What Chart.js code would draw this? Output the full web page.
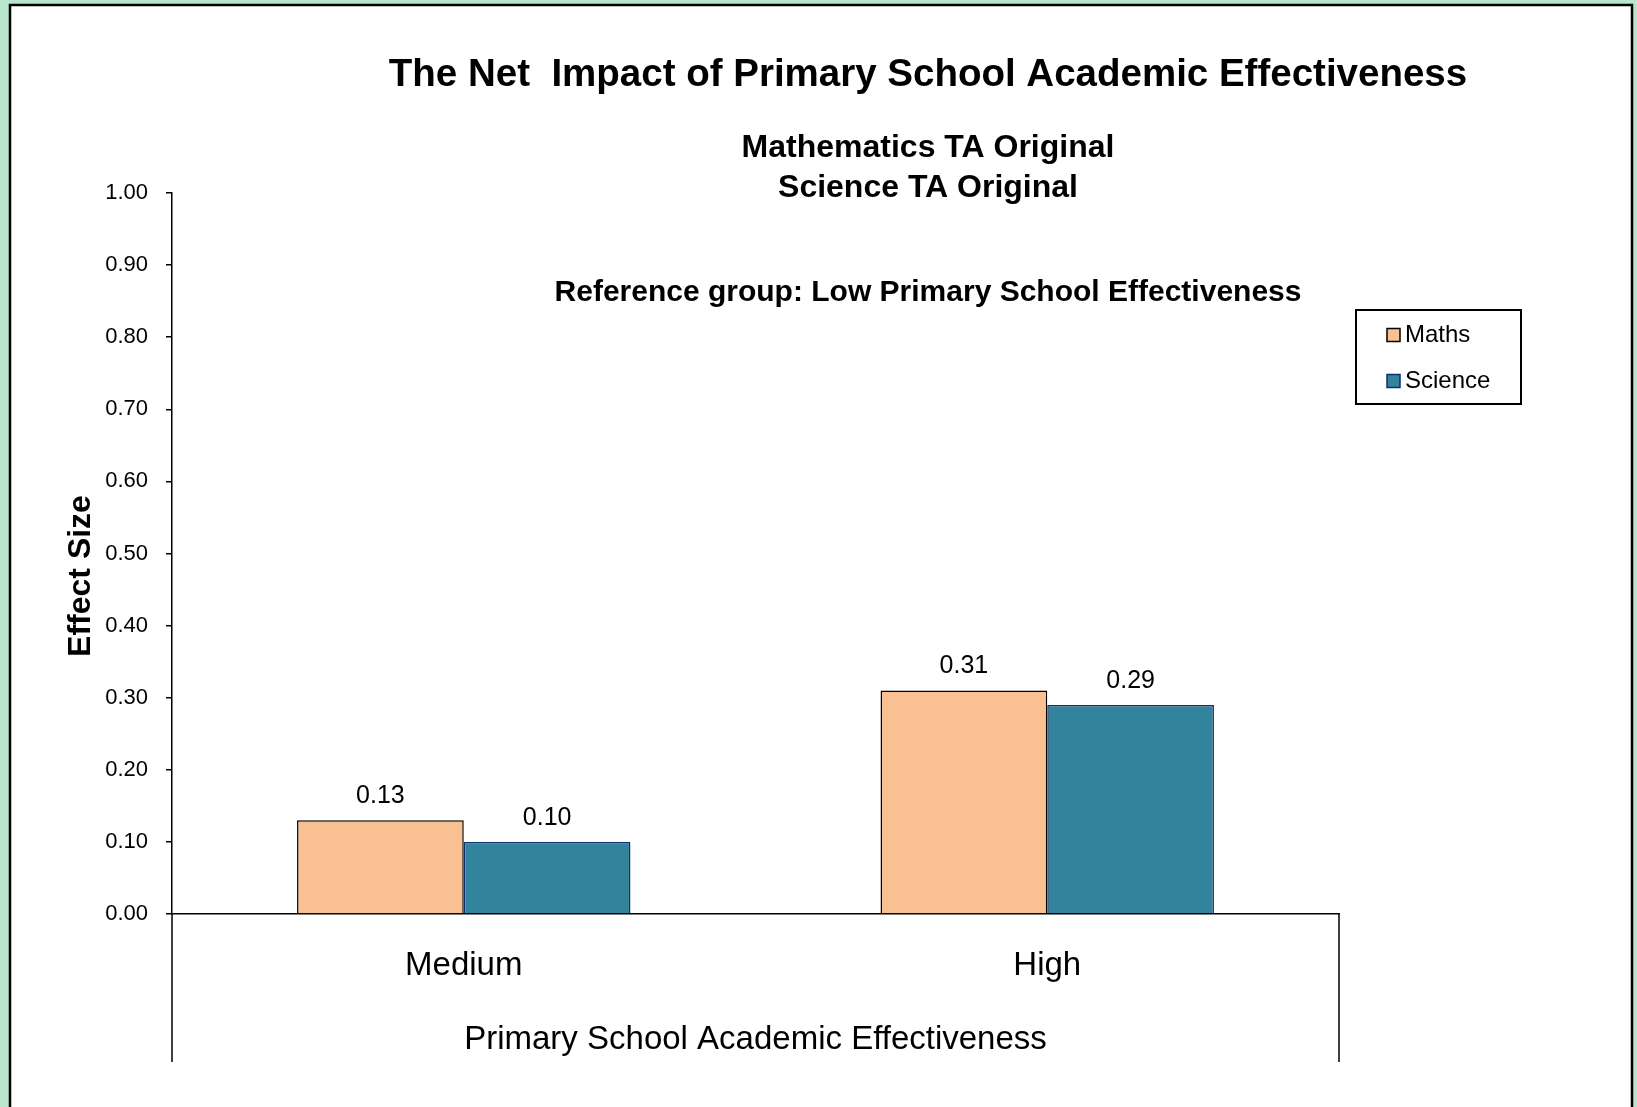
<!DOCTYPE html>
<html>
<head>
<meta charset="utf-8">
<title>The Net Impact of Primary School Academic Effectiveness</title>
<script src="https://cdn.jsdelivr.net/npm/chart.js@4.4.1/dist/chart.umd.min.js"></script>
<style>
  html, body { margin: 0; padding: 0; background: #b9e5cc; }
  canvas { display: block; }
</style>
</head>
<body>
<canvas id="myChart" width="1637" height="1107"></canvas>
<script>
const categories = ['Medium', 'High']
const seriesNames = ['Maths', 'Science']
const mathsValues = [0.13, 0.31]
const scienceValues = [0.10, 0.29]
const yTicks = [0, 0.1, 0.2, 0.3, 0.4, 0.5, 0.6, 0.7, 0.8, 0.9, 1.0]

const FONT = 'Arial, "Liberation Sans", sans-serif'

// panel, titles, legend box and the axis end lines are drawn by hand
const decorations = {
  id: 'decorations',
  beforeDraw(chart) {
    const ctx = chart.ctx
    ctx.save()
    ctx.fillStyle = '#b9e5cc'
    ctx.fillRect(0, 0, chart.width, chart.height)
    ctx.fillStyle = '#ffffff'
    ctx.fillRect(10, 5, 1622, 1110)
    ctx.strokeStyle = '#000'
    ctx.lineWidth = 2.5
    ctx.strokeRect(10, 5, 1622, 1110)
    ctx.restore()
  },
  afterDraw(chart) {
    const ctx = chart.ctx
    const area = chart.chartArea
    const x = chart.scales.x
    ctx.save()
    ctx.fillStyle = '#000'
    ctx.textAlign = 'center'
    ctx.textBaseline = 'alphabetic'
    ctx.font = 'bold 38.5px ' + FONT
    ctx.fillText('The Net  Impact of Primary School Academic Effectiveness', 928, 86)
    ctx.font = 'bold 32px ' + FONT
    ctx.fillText('Mathematics TA Original', 928, 157)
    ctx.fillText('Science TA Original', 928, 197)
    ctx.font = 'bold 30px ' + FONT
    ctx.fillText('Reference group: Low Primary School Effectiveness', 928, 301)

    // y axis title
    ctx.save()
    ctx.translate(90, 576)
    ctx.rotate(-Math.PI / 2)
    ctx.font = 'bold 32px ' + FONT
    ctx.fillText('Effect Size', 0, 0)
    ctx.restore()

    // category axis end lines running down past the labels
    ctx.strokeStyle = '#000'
    ctx.lineWidth = 1.5
    ctx.beginPath()
    ctx.moveTo(area.left, area.bottom)
    ctx.lineTo(area.left, x.bottom)
    ctx.moveTo(area.right, area.bottom)
    ctx.lineTo(area.right, x.bottom)
    ctx.stroke()

    // legend
    ctx.lineWidth = 2
    ctx.strokeRect(1356, 310, 165, 94)
    ctx.textAlign = 'left'
    ctx.textBaseline = 'middle'
    ctx.font = '24px ' + FONT
    const rows = [335, 381]
    chart.data.datasets.forEach((ds, i) => {
      ctx.fillStyle = ds.backgroundColor
      ctx.fillRect(1387, rows[i] - 6.5, 13, 13)
      ctx.strokeStyle = ds.borderColor
      ctx.lineWidth = 1.5
      ctx.strokeRect(1387, rows[i] - 6.5, 13, 13)
      ctx.fillStyle = '#000'
      ctx.fillText(ds.label, 1405, rows[i])
    })
    ctx.restore()
  },
  afterDatasetsDraw(chart) {
    const ctx = chart.ctx
    ctx.save()
    ctx.fillStyle = '#000'
    ctx.font = '25px ' + FONT
    ctx.textAlign = 'center'
    ctx.textBaseline = 'middle'
    chart.data.datasets.forEach((ds, i) => {
      chart.getDatasetMeta(i).data.forEach((bar, j) => {
        ctx.fillText(ds.data[j].toFixed(2), bar.x, bar.y - 24)
      })
    })
    ctx.restore()
  }
}

var ctx = document.getElementById('myChart')
var myBarChart = new Chart(ctx, {
  type: 'bar',
  data: {
    labels: categories,
    datasets: [
      {
        label: seriesNames[0],
        data: mathsValues,
        backgroundColor: '#f9c191',
        borderColor: '#000000',
        borderWidth: 1.5
      },
      {
        label: seriesNames[1],
        data: scienceValues,
        backgroundColor: '#31849b',
        borderColor: '#0f2f6e',
        borderWidth: 1.5
      }
    ]
  },
  options: {
    responsive: false,
    animation: false,
    layout: { padding: { top: 193, right: 298, bottom: 45, left: 0 } },
    categoryPercentage: 2 / 3.5,
    barPercentage: 1,
    plugins: {
      legend: { display: false },
      tooltip: { enabled: false }
    },
    scales: {
      x: {
        grid: { display: false },
        border: { display: true, color: '#000', width: 1.5 },
        ticks: { color: '#000', font: { family: FONT, size: 33 }, padding: 24 },
        title: {
          display: true,
          text: 'Primary School Academic Effectiveness',
          color: '#000',
          font: { family: FONT, size: 33 },
          padding: { top: 0, bottom: 2 }
        },
        afterFit: scale => { scale.height = 148 }
      },
      y: {
        min: 0,
        max: 1,
        afterBuildTicks: scale => {
          scale.ticks = yTicks.map(v => ({ value: v }))
        },
        grid: {
          display: true,
          drawOnChartArea: false,
          drawTicks: true,
          tickLength: 6,
          color: '#000',
          lineWidth: 1.5
        },
        border: { display: true, color: '#000', width: 1.5 },
        ticks: {
          color: '#000',
          font: { family: FONT, size: 22 },
          padding: 18,
          callback: v => Number(v).toFixed(2)
        },
        afterFit: scale => { scale.width = 172 }
      }
    }
  },
  plugins: [decorations]
})
</script>
</body>
</html>
